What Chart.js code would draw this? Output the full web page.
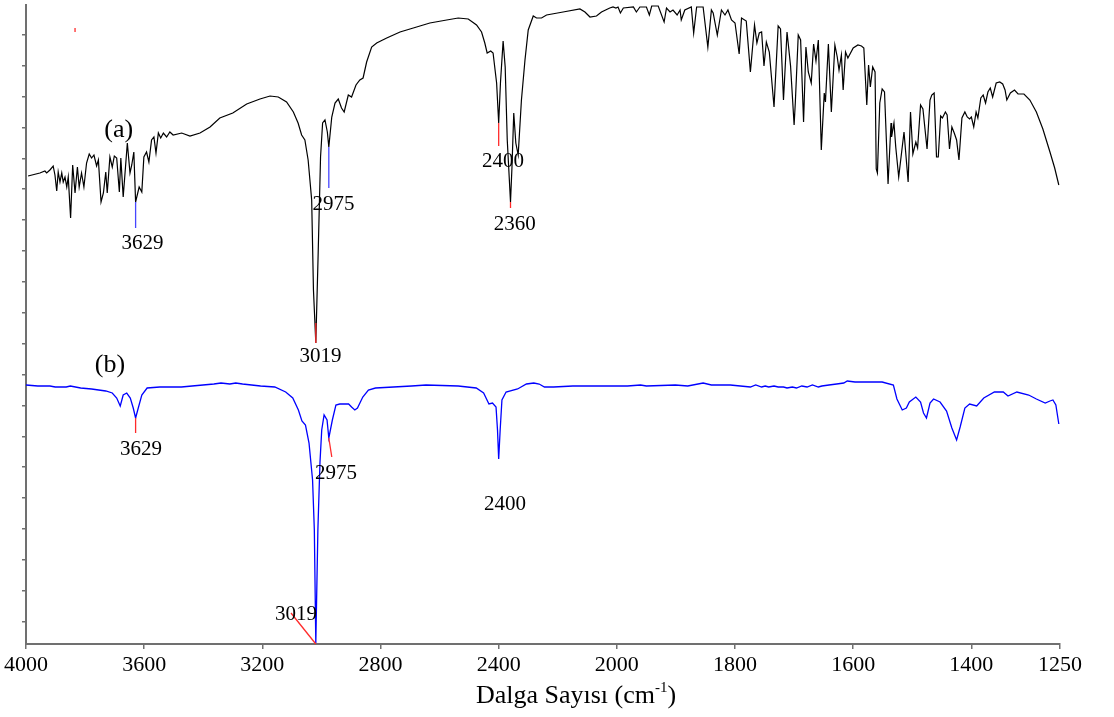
<!DOCTYPE html>
<html>
<head>
<meta charset="utf-8">
<script src="https://cdn.jsdelivr.net/npm/chart.js@4.4.1/dist/chart.umd.min.js"></script>
<style>
html,body{margin:0;padding:0;background:#fff;}
#wrap{width:1114px;height:717px;}
</style>
</head>
<body>
<div id="wrap"><canvas id="c" width="1114" height="717"></canvas></div>
<script>
// ---- x axis tick wavenumbers and labels ----
const tickWavenumbers = [4000, 3600, 3200, 2800, 2400, 2000, 1800, 1600, 1400, 1250];
const tickLabels = ['4000', '3600', '3200', '2800', '2400', '2000', '1800', '1600', '1400', '1250'];
// y tick positions (no labels in the original)
const yTicks = [22, 53, 84, 115, 146, 177, 207, 238, 269, 300, 331, 362, 393, 424, 455, 485, 516, 547, 578, 609];

// ---- spectrum (a): wavenumber (cm-1) and transmittance (arbitrary units) ----
const waveA = [
 3993,3953,3936,3930,3919,3908,3902,3896,3891,3885,
 3879,3874,3868,3862,3857,3849,3842,3834,3826,3820,
 3812,3804,3795,3786,3778,3770,3761,3755,3746,3738,
 3730,3725,3716,3708,3701,3693,3684,3679,3671,3657,
 3648,3642,3635,3629,3617,3608,3601,3592,3584,3575,
 3567,3560,3552,3544,3535,3524,3513,3502,3473,3445,
 3411,3377,3344,3300,3253,3208,3174,3146,3118,3095,
 3079,3067,3056,3045,3033,3027,3019,3011,3003,2996,
 2988,2980,2975,2965,2954,2943,2932,2923,2909,2898,
 2883,2870,2859,2847,2830,2813,2779,2734,2689,2633,
 2576,2537,2503,2475,2458,2447,2439,2427,2419,2407,
 2400,2394,2385,2378,2371,2360,2355,2349,2342,2334,
 2323,2311,2300,2283,2272,2255,2238,2182,2125,2108,
 2091,2069,2052,2024,2013,2003,1998,1994,1989,1972,
 1967,1961,1950,1945,1941,1930,1920,1916,1910,1905,
 1898,1893,1891,1885,1874,1870,1865,1854,1846,1840,
 1837,1830,1823,1817,1812,1806,1800,1793,1789,1781,
 1774,1767,1763,1759,1755,1751,1747,1742,1734,1727,
 1723,1718,1712,1706,1700,1698,1693,1689,1684,1680,
 1676,1671,1667,1663,1659,1654,1649,1647,1642,1637,
 1631,1627,1624,1620,1617,1613,1609,1600,1592,1586,
 1582,1577,1574,1571,1567,1563,1561,1559,1555,1551,
 1547,1541,1536,1535,1531,1528,1523,1514,1507,1503,
 1499,1494,1491,1486,1482,1475,1470,1467,1463,1459,
 1456,1452,1449,1444,1441,1437,1433,1429,1425,1421,
 1416,1411,1407,1403,1400,1396,1392,1389,1384,1380,
 1376,1372,1368,1364,1358,1352,1347,1343,1340,1334,
 1327,1321,1311,1301,1290,1279,1267,1259,1252
];
const transA = [
 468,471,473,471,474,478,469,453,472,462,
 471,462,467,457,467,426,479,451,477,457,
 471,457,481,490,486,489,478,484,442,451,
 472,451,487,477,488,486,452,486,447,501,
 471,479,492,442,457,452,487,492,482,504,
 507,491,511,506,511,507,512,509,511,508,
 511,517,526,531,540,545,548,547,542,532,
 521,509,504,484,444,354,301,391,487,521,
 524,512,497,527,541,545,536,532,549,547,
 559,564,566,582,597,601,606,612,616,621,
 624,626,625,619,612,601,591,593,591,561,
 521,561,603,577,504,442,477,531,501,489,
 544,584,614,628,626,626,629,632,635,632,
 627,628,632,636,637,636,637,631,636,637,
 632,637,637,629,638,638,622,636,632,634,
 629,634,624,634,637,611,637,637,597,634,
 631,609,634,629,634,624,621,590,626,623,
 572,619,601,611,612,578,602,592,537,618,
 615,544,612,578,519,541,609,604,522,597,
 572,561,600,583,604,494,551,542,600,532,
 599,587,574,589,554,592,586,596,599,598,
 596,539,579,557,577,572,475,471,541,555,
 552,460,521,507,521,497,467,512,462,532,
 490,502,496,539,535,495,544,549,551,487,
 487,528,526,532,529,495,517,511,504,484,
 526,532,527,525,527,517,532,526,546,549,
 541,552,556,547,561,562,560,554,544,551,
 554,550,550,544,532,515,492,476,459
];

// ---- spectrum (b) ----
const waveB = [
 4000,3960,3919,3901,3864,3850,3815,3778,3754,3730,
 3708,3693,3681,3671,3659,3647,3637,3629,3620,3608,
 3590,3547,3474,3438,3364,3340,3310,3290,3267,3206,
 3158,3121,3097,3078,3066,3054,3042,3030,3024,3019,
 3012,3005,2999,2991,2981,2975,2963,2951,2938,2908,
 2898,2887,2878,2860,2841,2817,2756,2695,2646,2537,
 2476,2451,2433,2421,2409,2404,2400,2395,2389,2375,
 2336,2306,2281,2263,2245,2214,2149,1982,1960,1950,
 1901,1880,1854,1840,1808,1774,1765,1755,1749,1743,
 1734,1727,1718,1712,1703,1696,1687,1678,1669,1659,
 1653,1641,1628,1616,1610,1597,1551,1532,1526,1517,
 1510,1505,1494,1486,1481,1476,1470,1464,1453,1442,
 1433,1425,1419,1411,1403,1391,1379,1361,1355,1346,
 1338,1323,1303,1290,1275,1267,1262,1257,1252
];
const transB = [
 259,258,258,257,257,258,256,255,254,253,
 251,246,238,249,251,246,236,226,236,249,
 256,257,257,258,260,261,260,261,260,258,
 257,252,246,234,223,219,201,164,114,1,
 114,181,214,229,224,206,224,239,240,240,
 237,234,236,247,254,256,257,258,259,258,
 256,251,240,241,237,214,185,214,244,252,
 255,260,261,260,257,257,258,258,259,258,
 259,258,261,259,259,257,259,257,258,257,
 258,257,257,256,257,256,258,257,259,257,
 258,259,260,261,263,262,262,259,245,234,
 236,242,247,242,231,226,241,245,242,233,
 216,204,217,236,240,238,246,252,252,252,
 248,252,249,245,241,243,244,239,220
];

// ---- peak annotations (data coordinates: wavenumber, transmittance) ----
const markLines = [
 {w1:3629, t1:442, w2:3629, t2:416, c:'#4646ff'},
 {w1:3019, t1:301, w2:3019, t2:321, c:'#ff2a2a'},
 {w1:2975, t1:497, w2:2975, t2:456, c:'#4646ff'},
 {w1:2400, t1:521, w2:2400, t2:498, c:'#ff2a2a'},
 {w1:2360, t1:442, w2:2360, t2:436, c:'#ff2a2a'},
 {w1:3629, t1:226, w2:3629, t2:211, c:'#ff2a2a'},
 {w1:2975, t1:206, w2:2965, t2:187, c:'#ff2a2a'},
 {w1:3019, t1:0,   w2:3103, t2:31,  c:'#ff2a2a'},
 {w1:3834, t1:616, w2:3834, t2:612, c:'#ff2a2a'}
];
const markTexts = [
 {s:'(a)',  w:3686, t:514, big:true},
 {s:'3629', w:3606, t:402},
 {s:'3019', w:3003, t:289},
 {s:'2975', w:2959, t:441},
 {s:'2400', w:2385, t:484},
 {s:'2360', w:2346, t:421},
 {s:'(b)',  w:3716, t:279, big:true},
 {s:'3629', w:3611, t:196},
 {s:'2975', w:2951, t:172},
 {s:'2400', w:2379, t:141},
 {s:'3019', w:3086, t:31}
];

// piecewise wavenumber axis (scale change at 2000 cm-1)
const toAxis = w => (w >= 2000 ? (4000 - w) / 400 : 5 + (2000 - w) / 200);

const SERIF = '"Liberation Serif", "Times New Roman", serif';

const annotPlugin = {
  id: 'annot',
  afterDatasetsDraw(chart) {
    const ctx = chart.ctx, xs = chart.scales.x, ys = chart.scales.y;
    ctx.save();
    ctx.lineWidth = 1.3;
    markLines.forEach(m => {
      ctx.strokeStyle = m.c;
      ctx.beginPath();
      ctx.moveTo(xs.getPixelForValue(toAxis(m.w1)), ys.getPixelForValue(m.t1));
      ctx.lineTo(xs.getPixelForValue(toAxis(m.w2)), ys.getPixelForValue(m.t2));
      ctx.stroke();
    });
    ctx.fillStyle = '#000';
    ctx.textAlign = 'center';
    ctx.textBaseline = 'alphabetic';
    markTexts.forEach(m => {
      const size = m.big ? 26 : 21;
      ctx.font = size + 'px ' + SERIF;
      const x = xs.getPixelForValue(toAxis(m.w));
      const y = ys.getPixelForValue(m.t) + (m.big ? 0.26 : 0.33) * size;
      ctx.fillText(m.s, x, y);
    });
    // axis title with superscript
    const area = chart.chartArea;
    const cx = (area.left + area.right) / 2 + 33;
    const by = 703;
    const main = 'Dalga Sayısı (cm', sup = '-1', end = ')';
    ctx.font = '26px ' + SERIF;
    const w1 = ctx.measureText(main).width, w3 = ctx.measureText(end).width;
    ctx.font = '15px ' + SERIF;
    const w2 = ctx.measureText(sup).width;
    let x0 = cx - (w1 + w2 + w3) / 2;
    ctx.textAlign = 'left';
    ctx.font = '26px ' + SERIF;
    ctx.fillText(main, x0, by);
    ctx.font = '15px ' + SERIF;
    ctx.fillText(sup, x0 + w1, by - 11);
    ctx.font = '26px ' + SERIF;
    ctx.fillText(end, x0 + w1 + w2, by);
    ctx.restore();
  }
};

const ptsA = waveA.map((w, i) => ({x: toAxis(w), y: transA[i]}));
const ptsB = waveB.map((w, i) => ({x: toAxis(w), y: transB[i]}));

new Chart(document.getElementById('c'), {
  type: 'line',
  data: {
    datasets: [
      {label: '(a)', data: ptsA, borderColor: '#000000', borderWidth: 1.2, pointRadius: 0, fill: false, tension: 0},
      {label: '(b)', data: ptsB, borderColor: '#0000ff', borderWidth: 1.3, pointRadius: 0, fill: false, tension: 0}
    ]
  },
  options: {
    responsive: false,
    animation: false,
    devicePixelRatio: 1,
    layout: {padding: {left: 22, right: 54, top: 5, bottom: 35.6}},
    plugins: {legend: {display: false}, tooltip: {enabled: false}, title: {display: false}},
    scales: {
      x: {
        type: 'linear', min: 0, max: toAxis(1250),
        border: {display: true, color: '#707070', width: 2},
        grid: {display: true, drawOnChartArea: false, drawTicks: true, tickLength: 5, tickColor: '#707070', lineWidth: 1.5},
        afterBuildTicks: s => { s.ticks = tickWavenumbers.map(w => ({value: toAxis(w)})); },
        ticks: {autoSkip: false, maxRotation: 0, minRotation: 0, padding: 3, color: '#000',
                font: {family: SERIF, size: 22},
                callback: (v, i) => tickLabels[i]}
      },
      y: {
        type: 'linear', min: 0, max: 639,
        border: {display: true, color: '#707070', width: 2},
        grid: {display: true, drawOnChartArea: false, drawTicks: true, tickLength: 4, tickColor: '#707070', lineWidth: 1.5},
        afterBuildTicks: s => { s.ticks = yTicks.map(v => ({value: v})); },
        ticks: {display: false}
      }
    }
  },
  plugins: [annotPlugin]
});
</script>
</body>
</html>
